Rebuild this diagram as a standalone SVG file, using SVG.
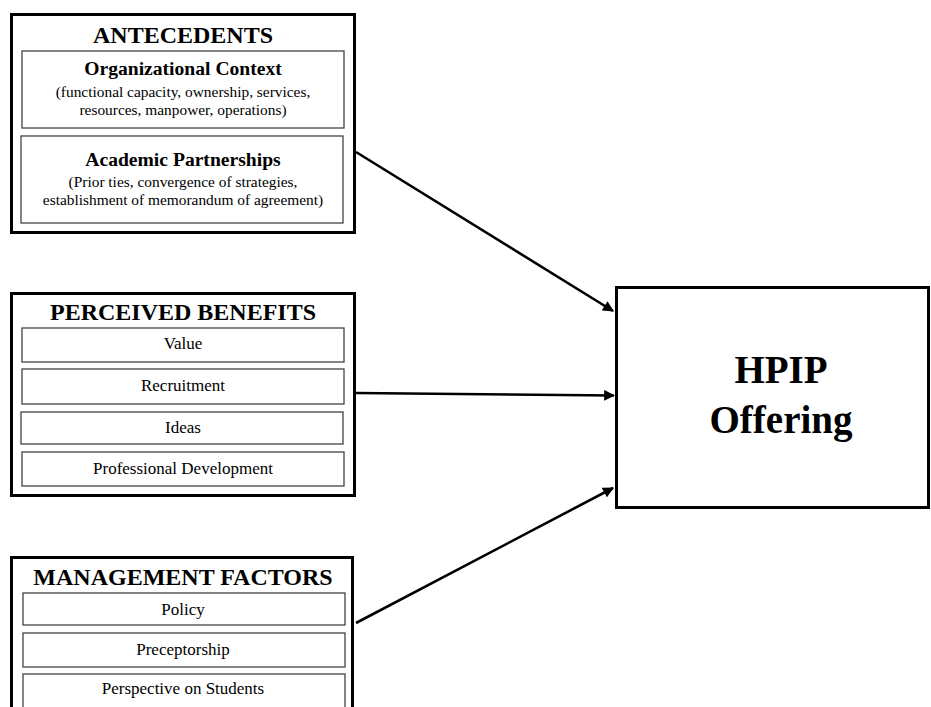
<svg xmlns="http://www.w3.org/2000/svg" width="931" height="707" viewBox="0 0 931 707">
<defs>
<style>
.outer{fill:#fff;stroke:#000;stroke-width:3}
.inner{fill:#fff;stroke:#444;stroke-width:1.3}
.t{font-family:"Liberation Serif","Times New Roman",serif;fill:#000;text-anchor:middle}
.h{font-size:24px;font-weight:bold}
.sh{font-size:19.6px;font-weight:bold}
.s{font-size:15.4px}
.i{font-size:17px}
.big{font-size:39px;font-weight:bold}
.conn{stroke:#000;stroke-width:2.6;fill:none}
</style>
<marker id="ah" viewBox="0 0 10 10" refX="9" refY="5" markerWidth="4.4" markerHeight="4.2" markerUnits="strokeWidth" orient="auto">
<path d="M0,0 L10,5 L0,10 Z" fill="#000"/>
</marker>
</defs>
<rect width="931" height="707" fill="#fff"/>
<g id="antecedents">
<rect class="outer" x="11.5" y="14.5" width="343" height="218"/>
<text class="t h" x="183" y="43">ANTECEDENTS</text>
<rect class="inner" x="22" y="51" width="322" height="77"/>
<text class="t sh" x="183" y="75">Organizational Context</text>
<text class="t s" x="183" y="97">(functional capacity, ownership, services,</text>
<text class="t s" x="183" y="115">resources, manpower, operations)</text>
<rect class="inner" x="21" y="136" width="322" height="87"/>
<text class="t sh" x="183" y="166">Academic Partnerships</text>
<text class="t s" x="183" y="187">(Prior ties, convergence of strategies,</text>
<text class="t s" x="183" y="205">establishment of memorandum of agreement)</text>
</g>
<g id="perceived-benefits">
<rect class="outer" x="11.5" y="293.5" width="343" height="202"/>
<text class="t h" x="183" y="320">PERCEIVED BENEFITS</text>
<rect class="inner" x="22" y="328" width="322" height="34"/>
<text class="t i" x="183" y="349">Value</text>
<rect class="inner" x="22" y="369" width="322" height="35"/>
<text class="t i" x="183" y="391">Recruitment</text>
<rect class="inner" x="21" y="412" width="322" height="32"/>
<text class="t i" x="183" y="433">Ideas</text>
<rect class="inner" x="22" y="452" width="322" height="34"/>
<text class="t i" x="183" y="474">Professional Development</text>
</g>
<g id="management-factors">
<rect class="outer" x="11.5" y="557.5" width="341" height="160"/>
<text class="t h" x="183" y="585">MANAGEMENT FACTORS</text>
<rect class="inner" x="23" y="593" width="322" height="32"/>
<text class="t i" x="183" y="615">Policy</text>
<rect class="inner" x="23" y="633" width="322" height="34"/>
<text class="t i" x="183" y="655">Preceptorship</text>
<rect class="inner" x="23" y="674" width="322" height="40"/>
<text class="t i" x="183" y="694">Perspective on Students</text>
</g>
<g id="hpip-offering">
<rect class="outer" x="616.5" y="287.5" width="312" height="220"/>
<text class="t big" x="781" y="383">HPIP</text>
<text class="t big" x="781" y="433">Offering</text>
</g>
<g id="connectors">
<line class="conn" x1="356" y1="152" x2="613" y2="311" marker-end="url(#ah)"/>
<line class="conn" x1="356" y1="393" x2="614" y2="395.5" marker-end="url(#ah)"/>
<line class="conn" x1="356" y1="623" x2="613" y2="488" marker-end="url(#ah)"/>
</g>
</svg>
